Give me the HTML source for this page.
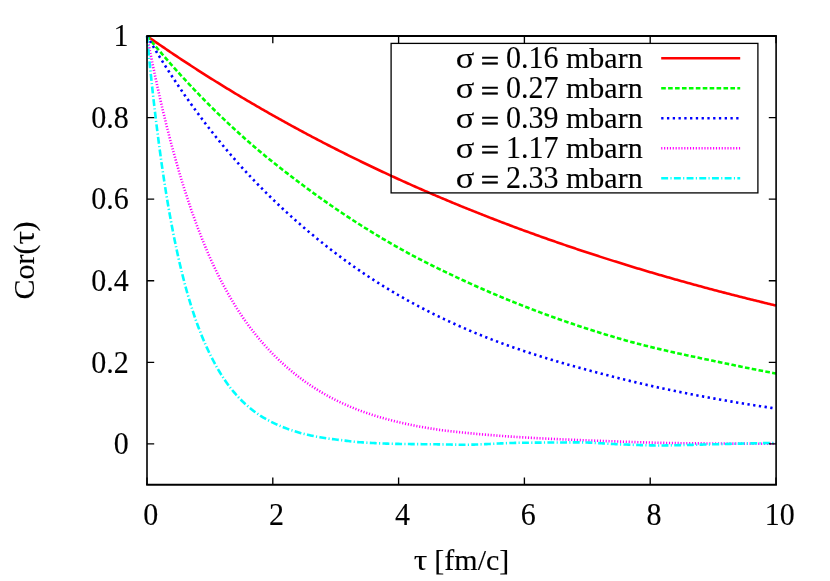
<!DOCTYPE html>
<html><head><meta charset="utf-8"><title>Cor(tau)</title>
<style>html,body{margin:0;padding:0;background:#fff;}body{width:830px;height:581px;overflow:hidden;position:relative;font-family:"Liberation Serif",serif;}</style>
</head><body>
<svg width="830" height="581" viewBox="0 0 830 581" style="position:absolute;left:0;top:0;will-change:transform">
<rect x="0" y="0" width="830" height="581" fill="#fff"/>
<g style="font-family:'Liberation Serif',serif;font-size:30px;fill:#000;stroke:#000;stroke-width:0.12px">
<text transform="translate(128.80,454.11) scale(1,1.03)" text-anchor="end">0</text>
<text transform="translate(128.80,372.53) scale(1,1.03)" text-anchor="end">0.2</text>
<text transform="translate(128.80,290.95) scale(1,1.03)" text-anchor="end">0.4</text>
<text transform="translate(128.80,209.36) scale(1,1.03)" text-anchor="end">0.6</text>
<text transform="translate(128.80,127.78) scale(1,1.03)" text-anchor="end">0.8</text>
<text transform="translate(128.60,46.20) scale(1,1.03)" text-anchor="end">1</text>
<text transform="translate(150.80,525.30) scale(1,1.03)" text-anchor="middle">0</text>
<text transform="translate(276.60,525.30) scale(1,1.03)" text-anchor="middle">2</text>
<text transform="translate(402.40,525.30) scale(1,1.03)" text-anchor="middle">4</text>
<text transform="translate(528.20,525.30) scale(1,1.03)" text-anchor="middle">6</text>
<text transform="translate(654.00,525.30) scale(1,1.03)" text-anchor="middle">8</text>
<text transform="translate(779.80,525.30) scale(1,1.03)" text-anchor="middle">10</text>
<text transform="translate(413.70,569.60) scale(1.13,1)" x="0" y="0">τ</text>
<text x="434.37" y="569.6">[fm/c]</text>
<g transform="translate(33.6,299.6) rotate(-90)"><text x="0" y="0">Cor(</text><text transform="translate(54.99,0.00) scale(1.13,1)" x="0" y="0">τ</text><text x="68.16" y="0">)</text></g>
<text transform="translate(455.70,68.10) scale(1.15,1)" x="0" y="0">σ</text>
<text transform="translate(490.05,70.60) scale(1.085,1)" text-anchor="middle" style="stroke-width:0.55px">=</text>
<text transform="translate(506.01,68.10) scale(1,1.03)" text-anchor="start">0.16</text>
<text transform="translate(566.01,68.10) scale(1,1)" text-anchor="start">mbarn</text>
<path d="M661.2,58.25 H740.2" fill="none" stroke="#ff0000" stroke-width="2.6"/>
<text transform="translate(455.70,98.05) scale(1.15,1)" x="0" y="0">σ</text>
<text transform="translate(490.05,100.55) scale(1.085,1)" text-anchor="middle" style="stroke-width:0.55px">=</text>
<text transform="translate(506.01,98.05) scale(1,1.03)" text-anchor="start">0.27</text>
<text transform="translate(566.01,98.05) scale(1,1)" text-anchor="start">mbarn</text>
<path d="M661.2,88.25 H740.2" fill="none" stroke="#00ff00" stroke-width="2.6" stroke-dasharray="4.61,2.31"/>
<text transform="translate(455.70,128.00) scale(1.15,1)" x="0" y="0">σ</text>
<text transform="translate(490.05,130.50) scale(1.085,1)" text-anchor="middle" style="stroke-width:0.55px">=</text>
<text transform="translate(506.01,128.00) scale(1,1.03)" text-anchor="start">0.39</text>
<text transform="translate(566.01,128.00) scale(1,1)" text-anchor="start">mbarn</text>
<path d="M661.2,118.25 H740.2" fill="none" stroke="#0000ff" stroke-width="2.6" stroke-dasharray="2.31,3.46"/>
<text transform="translate(455.70,157.95) scale(1.15,1)" x="0" y="0">σ</text>
<text transform="translate(490.05,160.45) scale(1.085,1)" text-anchor="middle" style="stroke-width:0.55px">=</text>
<text transform="translate(506.01,157.95) scale(1,1.03)" text-anchor="start">1.17</text>
<text transform="translate(566.01,157.95) scale(1,1)" text-anchor="start">mbarn</text>
<path d="M661.2,148.25 H740.2" fill="none" stroke="#ff00ff" stroke-width="2.6" stroke-dasharray="1.15,1.73"/>
<text transform="translate(455.70,187.90) scale(1.15,1)" x="0" y="0">σ</text>
<text transform="translate(490.05,190.40) scale(1.085,1)" text-anchor="middle" style="stroke-width:0.55px">=</text>
<text transform="translate(506.01,187.90) scale(1,1.03)" text-anchor="start">2.33</text>
<text transform="translate(566.01,187.90) scale(1,1)" text-anchor="start">mbarn</text>
<path d="M661.2,178.25 H740.2" fill="none" stroke="#00ffff" stroke-width="2.6" stroke-dasharray="6.92,2.31,1.15,2.31"/>
</g>
<path d="M147.00,36.00 L148.57,37.10 L150.15,38.20 L151.72,39.29 L153.29,40.39 L154.86,41.48 L156.44,42.56 L158.01,43.64 L159.58,44.72 L161.15,45.80 L162.72,46.88 L164.30,47.95 L165.87,49.02 L167.44,50.08 L169.01,51.15 L170.59,52.21 L172.16,53.26 L173.73,54.32 L175.31,55.37 L176.88,56.42 L178.45,57.46 L180.02,58.51 L181.59,59.55 L183.17,60.58 L184.74,61.62 L186.31,62.65 L187.88,63.68 L189.46,64.71 L191.03,65.73 L192.60,66.75 L194.18,67.77 L195.75,68.78 L197.32,69.80 L198.89,70.81 L200.47,71.81 L202.04,72.82 L203.61,73.82 L205.18,74.82 L206.75,75.81 L208.33,76.81 L209.90,77.80 L211.47,78.79 L213.05,79.77 L214.62,80.75 L216.19,81.73 L217.76,82.71 L219.33,83.69 L220.91,84.66 L222.48,85.63 L224.05,86.60 L225.62,87.56 L227.20,88.52 L228.77,89.48 L230.34,90.44 L231.92,91.39 L233.49,92.34 L235.06,93.29 L236.63,94.24 L238.20,95.18 L239.78,96.12 L241.35,97.06 L242.92,98.00 L244.50,98.93 L246.07,99.86 L247.64,100.79 L249.21,101.72 L250.78,102.64 L252.36,103.56 L253.93,104.48 L255.50,105.40 L257.07,106.31 L258.65,107.22 L260.22,108.13 L261.79,109.04 L263.37,109.94 L264.94,110.84 L266.51,111.74 L268.08,112.64 L269.65,113.53 L271.23,114.42 L272.80,115.31 L274.37,116.20 L275.94,117.08 L277.52,117.97 L279.09,118.85 L280.66,119.72 L282.24,120.60 L283.81,121.47 L285.38,122.34 L286.95,123.21 L288.52,124.08 L290.10,124.94 L291.67,125.80 L293.24,126.66 L294.81,127.51 L296.39,128.37 L297.96,129.22 L299.53,130.07 L301.11,130.92 L302.68,131.76 L304.25,132.60 L305.82,133.44 L307.39,134.28 L308.97,135.12 L310.54,135.95 L312.11,136.78 L313.69,137.61 L315.26,138.44 L316.83,139.26 L318.40,140.08 L319.98,140.90 L321.55,141.72 L323.12,142.54 L324.69,143.35 L326.26,144.16 L327.84,144.97 L329.41,145.78 L330.98,146.58 L332.56,147.39 L334.13,148.19 L335.70,148.98 L337.27,149.78 L338.84,150.57 L340.42,151.37 L341.99,152.16 L343.56,152.94 L345.13,153.73 L346.71,154.51 L348.28,155.29 L349.85,156.07 L351.43,156.85 L353.00,157.62 L354.57,158.40 L356.14,159.17 L357.72,159.94 L359.29,160.70 L360.86,161.47 L362.43,162.23 L364.00,162.99 L365.58,163.75 L367.15,164.50 L368.72,165.26 L370.29,166.01 L371.87,166.76 L373.44,167.51 L375.01,168.25 L376.58,169.00 L378.16,169.74 L379.73,170.48 L381.30,171.22 L382.88,171.95 L384.45,172.69 L386.02,173.42 L387.59,174.15 L389.17,174.88 L390.74,175.60 L392.31,176.33 L393.88,177.05 L395.46,177.77 L397.03,178.49 L398.60,179.21 L400.17,179.92 L401.75,180.63 L403.32,181.34 L404.89,182.05 L406.46,182.76 L408.04,183.46 L409.61,184.17 L411.18,184.87 L412.75,185.57 L414.32,186.26 L415.90,186.96 L417.47,187.65 L419.04,188.34 L420.61,189.03 L422.19,189.72 L423.76,190.41 L425.33,191.09 L426.91,191.77 L428.48,192.45 L430.05,193.13 L431.62,193.81 L433.19,194.49 L434.77,195.16 L436.34,195.83 L437.91,196.50 L439.49,197.17 L441.06,197.83 L442.63,198.50 L444.20,199.16 L445.77,199.82 L447.35,200.48 L448.92,201.14 L450.49,201.79 L452.06,202.45 L453.64,203.10 L455.21,203.75 L456.78,204.40 L458.36,205.04 L459.93,205.69 L461.50,206.33 L463.07,206.97 L464.64,207.61 L466.22,208.25 L467.79,208.88 L469.36,209.52 L470.94,210.15 L472.51,210.78 L474.08,211.41 L475.65,212.04 L477.23,212.66 L478.80,213.29 L480.37,213.91 L481.94,214.53 L483.51,215.15 L485.09,215.77 L486.66,216.38 L488.23,217.00 L489.81,217.61 L491.38,218.22 L492.95,218.83 L494.52,219.44 L496.09,220.04 L497.67,220.65 L499.24,221.25 L500.81,221.85 L502.39,222.45 L503.96,223.05 L505.53,223.64 L507.10,224.24 L508.68,224.83 L510.25,225.42 L511.82,226.01 L513.39,226.60 L514.96,227.19 L516.54,227.77 L518.11,228.36 L519.68,228.94 L521.25,229.52 L522.83,230.10 L524.40,230.67 L525.97,231.25 L527.54,231.82 L529.12,232.40 L530.69,232.97 L532.26,233.54 L533.84,234.10 L535.41,234.67 L536.98,235.23 L538.55,235.80 L540.12,236.36 L541.70,236.92 L543.27,237.48 L544.84,238.04 L546.41,238.59 L547.99,239.15 L549.56,239.70 L551.13,240.25 L552.71,240.80 L554.28,241.35 L555.85,241.89 L557.42,242.44 L559.00,242.98 L560.57,243.53 L562.14,244.07 L563.71,244.61 L565.29,245.14 L566.86,245.68 L568.43,246.22 L570.00,246.75 L571.58,247.28 L573.15,247.81 L574.72,248.34 L576.29,248.87 L577.87,249.40 L579.44,249.92 L581.01,250.44 L582.58,250.97 L584.15,251.49 L585.73,252.01 L587.30,252.52 L588.87,253.04 L590.44,253.56 L592.02,254.07 L593.59,254.58 L595.16,255.09 L596.74,255.60 L598.31,256.11 L599.88,256.62 L601.45,257.12 L603.02,257.63 L604.60,258.13 L606.17,258.63 L607.74,259.13 L609.31,259.63 L610.89,260.13 L612.46,260.62 L614.03,261.12 L615.61,261.61 L617.18,262.10 L618.75,262.59 L620.32,263.08 L621.89,263.57 L623.47,264.06 L625.04,264.54 L626.61,265.03 L628.19,265.51 L629.76,265.99 L631.33,266.47 L632.90,266.95 L634.48,267.43 L636.05,267.91 L637.62,268.38 L639.19,268.85 L640.76,269.33 L642.34,269.80 L643.91,270.27 L645.48,270.74 L647.06,271.20 L648.63,271.67 L650.20,272.14 L651.77,272.60 L653.35,273.06 L654.92,273.52 L656.49,273.98 L658.06,274.44 L659.63,274.90 L661.21,275.35 L662.78,275.81 L664.35,276.26 L665.92,276.72 L667.50,277.17 L669.07,277.62 L670.64,278.07 L672.21,278.51 L673.79,278.96 L675.36,279.40 L676.93,279.85 L678.50,280.29 L680.08,280.73 L681.65,281.17 L683.22,281.61 L684.80,282.05 L686.37,282.49 L687.94,282.92 L689.51,283.36 L691.09,283.79 L692.66,284.22 L694.23,284.65 L695.80,285.08 L697.38,285.51 L698.95,285.94 L700.52,286.37 L702.09,286.79 L703.66,287.22 L705.24,287.64 L706.81,288.06 L708.38,288.48 L709.95,288.90 L711.53,289.32 L713.10,289.74 L714.67,290.15 L716.25,290.57 L717.82,290.98 L719.39,291.39 L720.96,291.81 L722.54,292.22 L724.11,292.63 L725.68,293.03 L727.25,293.44 L728.83,293.85 L730.40,294.25 L731.97,294.66 L733.54,295.06 L735.12,295.46 L736.69,295.86 L738.26,296.26 L739.83,296.66 L741.40,297.06 L742.98,297.45 L744.55,297.85 L746.12,298.24 L747.70,298.64 L749.27,299.03 L750.84,299.42 L752.41,299.81 L753.99,300.20 L755.56,300.59 L757.13,300.97 L758.70,301.36 L760.27,301.74 L761.85,302.13 L763.42,302.51 L764.99,302.89 L766.56,303.27 L768.14,303.65 L769.71,304.03 L771.28,304.41 L772.85,304.78 L774.43,305.16 L776.00,305.53" fill="none" stroke="#ff0000" stroke-width="2.6" stroke-linejoin="round"/>
<path d="M147.00,36.00 L148.57,37.92 L150.15,39.83 L151.72,41.73 L153.29,43.62 L154.86,45.50 L156.44,47.37 L158.01,49.23 L159.58,51.09 L161.15,52.93 L162.72,54.76 L164.30,56.59 L165.87,58.40 L167.44,60.21 L169.01,62.01 L170.59,63.79 L172.16,65.57 L173.73,67.34 L175.31,69.10 L176.88,70.85 L178.45,72.59 L180.02,74.33 L181.59,76.05 L183.17,77.77 L184.74,79.47 L186.31,81.17 L187.88,82.86 L189.46,84.54 L191.03,86.21 L192.60,87.88 L194.18,89.53 L195.75,91.18 L197.32,92.81 L198.89,94.44 L200.47,96.06 L202.04,97.67 L203.61,99.28 L205.18,100.87 L206.75,102.46 L208.33,104.04 L209.90,105.61 L211.47,107.17 L213.05,108.73 L214.62,110.27 L216.19,111.81 L217.76,113.34 L219.33,114.86 L220.91,116.38 L222.48,117.89 L224.05,119.38 L225.62,120.88 L227.20,122.36 L228.77,123.83 L230.34,125.30 L231.92,126.76 L233.49,128.22 L235.06,129.66 L236.63,131.10 L238.20,132.53 L239.78,133.95 L241.35,135.37 L242.92,136.77 L244.50,138.18 L246.07,139.57 L247.64,140.96 L249.21,142.33 L250.78,143.71 L252.36,145.07 L253.93,146.42 L255.50,147.76 L257.07,149.10 L258.65,150.43 L260.22,151.75 L261.79,153.06 L263.37,154.36 L264.94,155.66 L266.51,156.95 L268.08,158.23 L269.65,159.51 L271.23,160.77 L272.80,162.04 L274.37,163.29 L275.94,164.54 L277.52,165.78 L279.09,167.02 L280.66,168.25 L282.24,169.48 L283.81,170.70 L285.38,171.92 L286.95,173.13 L288.52,174.34 L290.10,175.55 L291.67,176.75 L293.24,177.95 L294.81,179.14 L296.39,180.34 L297.96,181.53 L299.53,182.72 L301.11,183.90 L302.68,185.08 L304.25,186.26 L305.82,187.42 L307.39,188.59 L308.97,189.75 L310.54,190.90 L312.11,192.05 L313.69,193.20 L315.26,194.34 L316.83,195.47 L318.40,196.60 L319.98,197.73 L321.55,198.85 L323.12,199.96 L324.69,201.07 L326.26,202.18 L327.84,203.28 L329.41,204.37 L330.98,205.46 L332.56,206.55 L334.13,207.63 L335.70,208.70 L337.27,209.77 L338.84,210.84 L340.42,211.90 L341.99,212.96 L343.56,214.01 L345.13,215.06 L346.71,216.10 L348.28,217.14 L349.85,218.17 L351.43,219.20 L353.00,220.22 L354.57,221.24 L356.14,222.25 L357.72,223.26 L359.29,224.27 L360.86,225.27 L362.43,226.26 L364.00,227.25 L365.58,228.24 L367.15,229.22 L368.72,230.19 L370.29,231.16 L371.87,232.13 L373.44,233.09 L375.01,234.05 L376.58,235.00 L378.16,235.95 L379.73,236.89 L381.30,237.83 L382.88,238.77 L384.45,239.69 L386.02,240.62 L387.59,241.54 L389.17,242.45 L390.74,243.36 L392.31,244.27 L393.88,245.17 L395.46,246.07 L397.03,246.96 L398.60,247.84 L400.17,248.73 L401.75,249.60 L403.32,250.47 L404.89,251.34 L406.46,252.20 L408.04,253.05 L409.61,253.90 L411.18,254.74 L412.75,255.58 L414.32,256.41 L415.90,257.24 L417.47,258.06 L419.04,258.88 L420.61,259.70 L422.19,260.50 L423.76,261.31 L425.33,262.11 L426.91,262.91 L428.48,263.70 L430.05,264.49 L431.62,265.27 L433.19,266.05 L434.77,266.83 L436.34,267.60 L437.91,268.37 L439.49,269.14 L441.06,269.90 L442.63,270.66 L444.20,271.42 L445.77,272.17 L447.35,272.92 L448.92,273.67 L450.49,274.42 L452.06,275.16 L453.64,275.90 L455.21,276.64 L456.78,277.37 L458.36,278.11 L459.93,278.84 L461.50,279.57 L463.07,280.29 L464.64,281.02 L466.22,281.74 L467.79,282.46 L469.36,283.17 L470.94,283.88 L472.51,284.59 L474.08,285.30 L475.65,286.00 L477.23,286.70 L478.80,287.40 L480.37,288.09 L481.94,288.78 L483.51,289.47 L485.09,290.16 L486.66,290.84 L488.23,291.52 L489.81,292.19 L491.38,292.87 L492.95,293.54 L494.52,294.21 L496.09,294.87 L497.67,295.53 L499.24,296.19 L500.81,296.85 L502.39,297.50 L503.96,298.16 L505.53,298.80 L507.10,299.45 L508.68,300.09 L510.25,300.73 L511.82,301.37 L513.39,302.00 L514.96,302.63 L516.54,303.26 L518.11,303.89 L519.68,304.51 L521.25,305.13 L522.83,305.75 L524.40,306.36 L525.97,306.97 L527.54,307.58 L529.12,308.19 L530.69,308.79 L532.26,309.39 L533.84,309.99 L535.41,310.59 L536.98,311.18 L538.55,311.77 L540.12,312.36 L541.70,312.94 L543.27,313.53 L544.84,314.10 L546.41,314.68 L547.99,315.26 L549.56,315.83 L551.13,316.40 L552.71,316.96 L554.28,317.52 L555.85,318.08 L557.42,318.64 L559.00,319.20 L560.57,319.75 L562.14,320.30 L563.71,320.85 L565.29,321.39 L566.86,321.94 L568.43,322.48 L570.00,323.01 L571.58,323.55 L573.15,324.08 L574.72,324.61 L576.29,325.13 L577.87,325.66 L579.44,326.18 L581.01,326.70 L582.58,327.21 L584.15,327.73 L585.73,328.24 L587.30,328.75 L588.87,329.25 L590.44,329.76 L592.02,330.26 L593.59,330.76 L595.16,331.25 L596.74,331.74 L598.31,332.23 L599.88,332.72 L601.45,333.21 L603.02,333.69 L604.60,334.17 L606.17,334.65 L607.74,335.13 L609.31,335.60 L610.89,336.07 L612.46,336.54 L614.03,337.00 L615.61,337.47 L617.18,337.93 L618.75,338.38 L620.32,338.84 L621.89,339.29 L623.47,339.74 L625.04,340.19 L626.61,340.64 L628.19,341.08 L629.76,341.51 L631.33,341.95 L632.90,342.37 L634.48,342.80 L636.05,343.22 L637.62,343.64 L639.19,344.05 L640.76,344.46 L642.34,344.87 L643.91,345.27 L645.48,345.67 L647.06,346.07 L648.63,346.46 L650.20,346.85 L651.77,347.24 L653.35,347.62 L654.92,348.00 L656.49,348.38 L658.06,348.76 L659.63,349.13 L661.21,349.50 L662.78,349.87 L664.35,350.24 L665.92,350.60 L667.50,350.96 L669.07,351.32 L670.64,351.68 L672.21,352.04 L673.79,352.39 L675.36,352.74 L676.93,353.09 L678.50,353.44 L680.08,353.79 L681.65,354.13 L683.22,354.48 L684.80,354.82 L686.37,355.16 L687.94,355.50 L689.51,355.84 L691.09,356.18 L692.66,356.51 L694.23,356.85 L695.80,357.18 L697.38,357.52 L698.95,357.85 L700.52,358.18 L702.09,358.51 L703.66,358.84 L705.24,359.18 L706.81,359.51 L708.38,359.83 L709.95,360.16 L711.53,360.49 L713.10,360.82 L714.67,361.15 L716.25,361.48 L717.82,361.81 L719.39,362.13 L720.96,362.46 L722.54,362.79 L724.11,363.12 L725.68,363.45 L727.25,363.78 L728.83,364.11 L730.40,364.44 L731.97,364.77 L733.54,365.09 L735.12,365.42 L736.69,365.74 L738.26,366.07 L739.83,366.39 L741.40,366.71 L742.98,367.03 L744.55,367.35 L746.12,367.67 L747.70,367.99 L749.27,368.31 L750.84,368.62 L752.41,368.94 L753.99,369.25 L755.56,369.56 L757.13,369.87 L758.70,370.19 L760.27,370.50 L761.85,370.80 L763.42,371.11 L764.99,371.42 L766.56,371.73 L768.14,372.03 L769.71,372.34 L771.28,372.64 L772.85,372.95 L774.43,373.25 L776.00,373.55" fill="none" stroke="#00ff00" stroke-width="2.6" stroke-linejoin="round" stroke-dasharray="4.61,2.31"/>
<path d="M147.00,36.00 L148.57,38.67 L150.15,41.33 L151.72,43.96 L153.29,46.58 L154.86,49.18 L156.44,51.76 L158.01,54.32 L159.58,56.86 L161.15,59.38 L162.72,61.89 L164.30,64.38 L165.87,66.85 L167.44,69.30 L169.01,71.73 L170.59,74.15 L172.16,76.55 L173.73,78.93 L175.31,81.30 L176.88,83.65 L178.45,85.98 L180.02,88.29 L181.59,90.59 L183.17,92.87 L184.74,95.14 L186.31,97.39 L187.88,99.62 L189.46,101.84 L191.03,104.04 L192.60,106.23 L194.18,108.40 L195.75,110.56 L197.32,112.70 L198.89,114.82 L200.47,116.93 L202.04,119.02 L203.61,121.10 L205.18,123.17 L206.75,125.22 L208.33,127.26 L209.90,129.28 L211.47,131.28 L213.05,133.28 L214.62,135.26 L216.19,137.22 L217.76,139.17 L219.33,141.11 L220.91,143.03 L222.48,144.94 L224.05,146.84 L225.62,148.72 L227.20,150.58 L228.77,152.44 L230.34,154.28 L231.92,156.10 L233.49,157.92 L235.06,159.72 L236.63,161.50 L238.20,163.28 L239.78,165.04 L241.35,166.79 L242.92,168.52 L244.50,170.25 L246.07,171.96 L247.64,173.66 L249.21,175.34 L250.78,177.02 L252.36,178.68 L253.93,180.33 L255.50,181.98 L257.07,183.60 L258.65,185.22 L260.22,186.83 L261.79,188.43 L263.37,190.01 L264.94,191.59 L266.51,193.15 L268.08,194.70 L269.65,196.25 L271.23,197.78 L272.80,199.30 L274.37,200.82 L275.94,202.32 L277.52,203.82 L279.09,205.30 L280.66,206.78 L282.24,208.25 L283.81,209.71 L285.38,211.16 L286.95,212.60 L288.52,214.03 L290.10,215.45 L291.67,216.87 L293.24,218.28 L294.81,219.68 L296.39,221.07 L297.96,222.46 L299.53,223.83 L301.11,225.20 L302.68,226.56 L304.25,227.92 L305.82,229.26 L307.39,230.60 L308.97,231.93 L310.54,233.25 L312.11,234.56 L313.69,235.87 L315.26,237.16 L316.83,238.45 L318.40,239.73 L319.98,241.00 L321.55,242.27 L323.12,243.53 L324.69,244.78 L326.26,246.02 L327.84,247.25 L329.41,248.48 L330.98,249.70 L332.56,250.91 L334.13,252.11 L335.70,253.31 L337.27,254.50 L338.84,255.68 L340.42,256.85 L341.99,258.02 L343.56,259.18 L345.13,260.33 L346.71,261.47 L348.28,262.61 L349.85,263.74 L351.43,264.86 L353.00,265.98 L354.57,267.09 L356.14,268.19 L357.72,269.28 L359.29,270.37 L360.86,271.45 L362.43,272.52 L364.00,273.58 L365.58,274.64 L367.15,275.69 L368.72,276.73 L370.29,277.77 L371.87,278.80 L373.44,279.82 L375.01,280.84 L376.58,281.85 L378.16,282.85 L379.73,283.84 L381.30,284.83 L382.88,285.81 L384.45,286.79 L386.02,287.76 L387.59,288.72 L389.17,289.67 L390.74,290.62 L392.31,291.56 L393.88,292.49 L395.46,293.42 L397.03,294.34 L398.60,295.25 L400.17,296.16 L401.75,297.06 L403.32,297.95 L404.89,298.84 L406.46,299.72 L408.04,300.59 L409.61,301.46 L411.18,302.32 L412.75,303.18 L414.32,304.03 L415.90,304.88 L417.47,305.71 L419.04,306.55 L420.61,307.37 L422.19,308.20 L423.76,309.01 L425.33,309.82 L426.91,310.63 L428.48,311.42 L430.05,312.22 L431.62,313.01 L433.19,313.79 L434.77,314.57 L436.34,315.34 L437.91,316.11 L439.49,316.87 L441.06,317.63 L442.63,318.38 L444.20,319.13 L445.77,319.87 L447.35,320.61 L448.92,321.34 L450.49,322.07 L452.06,322.79 L453.64,323.51 L455.21,324.23 L456.78,324.94 L458.36,325.64 L459.93,326.34 L461.50,327.04 L463.07,327.73 L464.64,328.42 L466.22,329.10 L467.79,329.78 L469.36,330.45 L470.94,331.12 L472.51,331.78 L474.08,332.44 L475.65,333.09 L477.23,333.73 L478.80,334.38 L480.37,335.01 L481.94,335.65 L483.51,336.28 L485.09,336.90 L486.66,337.52 L488.23,338.13 L489.81,338.74 L491.38,339.35 L492.95,339.95 L494.52,340.55 L496.09,341.14 L497.67,341.73 L499.24,342.31 L500.81,342.90 L502.39,343.47 L503.96,344.05 L505.53,344.61 L507.10,345.18 L508.68,345.74 L510.25,346.30 L511.82,346.85 L513.39,347.40 L514.96,347.95 L516.54,348.49 L518.11,349.03 L519.68,349.57 L521.25,350.10 L522.83,350.63 L524.40,351.16 L525.97,351.68 L527.54,352.20 L529.12,352.72 L530.69,353.23 L532.26,353.74 L533.84,354.25 L535.41,354.75 L536.98,355.25 L538.55,355.75 L540.12,356.25 L541.70,356.74 L543.27,357.23 L544.84,357.72 L546.41,358.20 L547.99,358.68 L549.56,359.16 L551.13,359.64 L552.71,360.11 L554.28,360.58 L555.85,361.05 L557.42,361.52 L559.00,361.98 L560.57,362.44 L562.14,362.90 L563.71,363.36 L565.29,363.81 L566.86,364.27 L568.43,364.72 L570.00,365.16 L571.58,365.61 L573.15,366.05 L574.72,366.49 L576.29,366.93 L577.87,367.37 L579.44,367.81 L581.01,368.24 L582.58,368.67 L584.15,369.10 L585.73,369.53 L587.30,369.96 L588.87,370.38 L590.44,370.80 L592.02,371.23 L593.59,371.64 L595.16,372.06 L596.74,372.48 L598.31,372.89 L599.88,373.30 L601.45,373.72 L603.02,374.13 L604.60,374.53 L606.17,374.94 L607.74,375.35 L609.31,375.75 L610.89,376.15 L612.46,376.55 L614.03,376.95 L615.61,377.35 L617.18,377.75 L618.75,378.14 L620.32,378.54 L621.89,378.93 L623.47,379.32 L625.04,379.72 L626.61,380.11 L628.19,380.49 L629.76,380.88 L631.33,381.26 L632.90,381.64 L634.48,382.02 L636.05,382.39 L637.62,382.77 L639.19,383.14 L640.76,383.50 L642.34,383.87 L643.91,384.24 L645.48,384.60 L647.06,384.96 L648.63,385.32 L650.20,385.67 L651.77,386.03 L653.35,386.38 L654.92,386.73 L656.49,387.07 L658.06,387.42 L659.63,387.76 L661.21,388.10 L662.78,388.44 L664.35,388.78 L665.92,389.12 L667.50,389.45 L669.07,389.78 L670.64,390.11 L672.21,390.44 L673.79,390.77 L675.36,391.09 L676.93,391.41 L678.50,391.73 L680.08,392.05 L681.65,392.37 L683.22,392.68 L684.80,393.00 L686.37,393.31 L687.94,393.62 L689.51,393.92 L691.09,394.23 L692.66,394.54 L694.23,394.84 L695.80,395.14 L697.38,395.44 L698.95,395.74 L700.52,396.03 L702.09,396.33 L703.66,396.62 L705.24,396.91 L706.81,397.20 L708.38,397.49 L709.95,397.78 L711.53,398.06 L713.10,398.34 L714.67,398.63 L716.25,398.91 L717.82,399.18 L719.39,399.46 L720.96,399.74 L722.54,400.01 L724.11,400.28 L725.68,400.56 L727.25,400.83 L728.83,401.09 L730.40,401.36 L731.97,401.63 L733.54,401.89 L735.12,402.15 L736.69,402.42 L738.26,402.68 L739.83,402.94 L741.40,403.19 L742.98,403.45 L744.55,403.70 L746.12,403.96 L747.70,404.21 L749.27,404.46 L750.84,404.71 L752.41,404.96 L753.99,405.20 L755.56,405.45 L757.13,405.69 L758.70,405.94 L760.27,406.18 L761.85,406.42 L763.42,406.66 L764.99,406.90 L766.56,407.13 L768.14,407.37 L769.71,407.61 L771.28,407.84 L772.85,408.07 L774.43,408.30 L776.00,408.53" fill="none" stroke="#0000ff" stroke-width="2.6" stroke-linejoin="round" stroke-dasharray="2.31,3.46"/>
<path d="M147.00,36.00 L148.57,44.10 L150.15,52.04 L151.72,59.80 L153.29,67.41 L154.86,74.85 L156.44,82.14 L158.01,89.27 L159.58,96.25 L161.15,103.09 L162.72,109.79 L164.30,116.34 L165.87,122.76 L167.44,129.05 L169.01,135.20 L170.59,141.22 L172.16,147.12 L173.73,152.90 L175.31,158.56 L176.88,164.10 L178.45,169.53 L180.02,174.84 L181.59,180.05 L183.17,185.15 L184.74,190.14 L186.31,195.03 L187.88,199.82 L189.46,204.51 L191.03,209.11 L192.60,213.61 L194.18,218.02 L195.75,222.33 L197.32,226.56 L198.89,230.70 L200.47,234.76 L202.04,238.73 L203.61,242.62 L205.18,246.43 L206.75,250.16 L208.33,253.82 L209.90,257.40 L211.47,260.90 L213.05,264.33 L214.62,267.69 L216.19,270.98 L217.76,274.20 L219.33,277.35 L220.91,280.43 L222.48,283.45 L224.05,286.41 L225.62,289.31 L227.20,292.15 L228.77,294.92 L230.34,297.65 L231.92,300.31 L233.49,302.93 L235.06,305.48 L236.63,307.99 L238.20,310.45 L239.78,312.86 L241.35,315.22 L242.92,317.53 L244.50,319.79 L246.07,322.02 L247.64,324.20 L249.21,326.33 L250.78,328.43 L252.36,330.48 L253.93,332.50 L255.50,334.48 L257.07,336.42 L258.65,338.32 L260.22,340.19 L261.79,342.02 L263.37,343.82 L264.94,345.59 L266.51,347.32 L268.08,349.02 L269.65,350.70 L271.23,352.34 L272.80,353.95 L274.37,355.54 L275.94,357.10 L277.52,358.63 L279.09,360.13 L280.66,361.61 L282.24,363.07 L283.81,364.50 L285.38,365.90 L286.95,367.29 L288.52,368.65 L290.10,369.99 L291.67,371.30 L293.24,372.60 L294.81,373.87 L296.39,375.11 L297.96,376.34 L299.53,377.55 L301.11,378.73 L302.68,379.89 L304.25,381.03 L305.82,382.16 L307.39,383.26 L308.97,384.34 L310.54,385.40 L312.11,386.45 L313.69,387.47 L315.26,388.48 L316.83,389.47 L318.40,390.44 L319.98,391.40 L321.55,392.33 L323.12,393.25 L324.69,394.16 L326.26,395.04 L327.84,395.91 L329.41,396.77 L330.98,397.61 L332.56,398.43 L334.13,399.24 L335.70,400.04 L337.27,400.82 L338.84,401.58 L340.42,402.33 L341.99,403.07 L343.56,403.79 L345.13,404.50 L346.71,405.20 L348.28,405.88 L349.85,406.55 L351.43,407.21 L353.00,407.85 L354.57,408.49 L356.14,409.11 L357.72,409.72 L359.29,410.31 L360.86,410.90 L362.43,411.48 L364.00,412.04 L365.58,412.60 L367.15,413.14 L368.72,413.67 L370.29,414.20 L371.87,414.71 L373.44,415.22 L375.01,415.71 L376.58,416.20 L378.16,416.68 L379.73,417.15 L381.30,417.61 L382.88,418.06 L384.45,418.51 L386.02,418.94 L387.59,419.37 L389.17,419.79 L390.74,420.20 L392.31,420.60 L393.88,421.00 L395.46,421.39 L397.03,421.77 L398.60,422.15 L400.17,422.52 L401.75,422.88 L403.32,423.23 L404.89,423.58 L406.46,423.93 L408.04,424.26 L409.61,424.59 L411.18,424.92 L412.75,425.23 L414.32,425.55 L415.90,425.85 L417.47,426.16 L419.04,426.45 L420.61,426.74 L422.19,427.03 L423.76,427.31 L425.33,427.58 L426.91,427.85 L428.48,428.12 L430.05,428.38 L431.62,428.64 L433.19,428.89 L434.77,429.13 L436.34,429.38 L437.91,429.61 L439.49,429.85 L441.06,430.09 L442.63,430.30 L444.20,430.49 L445.77,430.67 L447.35,430.85 L448.92,431.03 L450.49,431.21 L452.06,431.39 L453.64,431.56 L455.21,431.73 L456.78,431.90 L458.36,432.07 L459.93,432.24 L461.50,432.40 L463.07,432.56 L464.64,432.72 L466.22,432.88 L467.79,433.04 L469.36,433.19 L470.94,433.34 L472.51,433.50 L474.08,433.64 L475.65,433.79 L477.23,433.94 L478.80,434.08 L480.37,434.22 L481.94,434.36 L483.51,434.50 L485.09,434.63 L486.66,434.77 L488.23,434.90 L489.81,435.03 L491.38,435.16 L492.95,435.28 L494.52,435.41 L496.09,435.53 L497.67,435.65 L499.24,435.77 L500.81,435.89 L502.39,436.00 L503.96,436.12 L505.53,436.23 L507.10,436.34 L508.68,436.45 L510.25,436.55 L511.82,436.66 L513.39,436.76 L514.96,436.86 L516.54,436.96 L518.11,437.06 L519.68,437.16 L521.25,437.25 L522.83,437.35 L524.40,437.44 L525.97,437.53 L527.54,437.62 L529.12,437.71 L530.69,437.80 L532.26,437.89 L533.84,437.97 L535.41,438.06 L536.98,438.14 L538.55,438.23 L540.12,438.31 L541.70,438.39 L543.27,438.47 L544.84,438.55 L546.41,438.63 L547.99,438.70 L549.56,438.78 L551.13,438.86 L552.71,438.93 L554.28,439.01 L555.85,439.08 L557.42,439.15 L559.00,439.22 L560.57,439.29 L562.14,439.36 L563.71,439.43 L565.29,439.50 L566.86,439.57 L568.43,439.63 L570.00,439.70 L571.58,439.77 L573.15,439.83 L574.72,439.90 L576.29,439.96 L577.87,440.02 L579.44,440.08 L581.01,440.15 L582.58,440.21 L584.15,440.27 L585.73,440.33 L587.30,440.39 L588.87,440.45 L590.44,440.51 L592.02,440.56 L593.59,440.62 L595.16,440.68 L596.74,440.74 L598.31,440.79 L599.88,440.85 L601.45,440.91 L603.02,440.96 L604.60,441.02 L606.17,441.08 L607.74,441.13 L609.31,441.19 L610.89,441.25 L612.46,441.30 L614.03,441.36 L615.61,441.42 L617.18,441.47 L618.75,441.53 L620.32,441.59 L621.89,441.64 L623.47,441.70 L625.04,441.75 L626.61,441.81 L628.19,441.86 L629.76,441.92 L631.33,441.97 L632.90,442.03 L634.48,442.08 L636.05,442.13 L637.62,442.18 L639.19,442.23 L640.76,442.28 L642.34,442.33 L643.91,442.38 L645.48,442.43 L647.06,442.48 L648.63,442.52 L650.20,442.57 L651.77,442.61 L653.35,442.65 L654.92,442.69 L656.49,442.73 L658.06,442.77 L659.63,442.81 L661.21,442.85 L662.78,442.88 L664.35,442.92 L665.92,442.95 L667.50,442.98 L669.07,443.01 L670.64,443.04 L672.21,443.07 L673.79,443.09 L675.36,443.12 L676.93,443.14 L678.50,443.16 L680.08,443.18 L681.65,443.20 L683.22,443.21 L684.80,443.23 L686.37,443.25 L687.94,443.26 L689.51,443.28 L691.09,443.30 L692.66,443.31 L694.23,443.33 L695.80,443.34 L697.38,443.36 L698.95,443.37 L700.52,443.38 L702.09,443.40 L703.66,443.41 L705.24,443.42 L706.81,443.44 L708.38,443.45 L709.95,443.46 L711.53,443.47 L713.10,443.48 L714.67,443.49 L716.25,443.51 L717.82,443.52 L719.39,443.53 L720.96,443.53 L722.54,443.54 L724.11,443.55 L725.68,443.56 L727.25,443.57 L728.83,443.58 L730.40,443.58 L731.97,443.59 L733.54,443.60 L735.12,443.61 L736.69,443.61 L738.26,443.62 L739.83,443.62 L741.40,443.63 L742.98,443.63 L744.55,443.64 L746.12,443.64 L747.70,443.65 L749.27,443.65 L750.84,443.66 L752.41,443.66 L753.99,443.67 L755.56,443.67 L757.13,443.68 L758.70,443.68 L760.27,443.68 L761.85,443.69 L763.42,443.69 L764.99,443.69 L766.56,443.70 L768.14,443.70 L769.71,443.70 L771.28,443.70 L772.85,443.70 L774.43,443.70 L776.00,443.71" fill="none" stroke="#ff00ff" stroke-width="2.6" stroke-linejoin="round" stroke-dasharray="1.15,1.73"/>
<path d="M147.00,36.00 L148.57,52.35 L150.15,68.01 L151.72,82.98 L153.29,97.31 L154.86,111.01 L156.44,124.13 L158.01,136.67 L159.58,148.67 L161.15,160.13 L162.72,171.10 L164.30,181.57 L165.87,191.59 L167.44,201.17 L169.01,210.33 L170.59,219.11 L172.16,227.52 L173.73,235.58 L175.31,243.32 L176.88,250.76 L178.45,257.91 L180.02,264.76 L181.59,271.33 L183.17,277.64 L184.74,283.69 L186.31,289.49 L187.88,295.07 L189.46,300.42 L191.03,305.56 L192.60,310.50 L194.18,315.26 L195.75,319.82 L197.32,324.22 L198.89,328.45 L200.47,332.52 L202.04,336.45 L203.61,340.23 L205.18,343.87 L206.75,347.39 L208.33,350.78 L209.90,354.06 L211.47,357.22 L213.05,360.27 L214.62,363.23 L216.19,366.08 L217.76,368.84 L219.33,371.50 L220.91,374.07 L222.48,376.54 L224.05,378.94 L225.62,381.24 L227.20,383.47 L228.77,385.61 L230.34,387.68 L231.92,389.68 L233.49,391.60 L235.06,393.46 L236.63,395.25 L238.20,396.98 L239.78,398.64 L241.35,400.24 L242.92,401.79 L244.50,403.28 L246.07,404.72 L247.64,406.10 L249.21,407.44 L250.78,408.73 L252.36,409.98 L253.93,411.18 L255.50,412.34 L257.07,413.45 L258.65,414.53 L260.22,415.57 L261.79,416.56 L263.37,417.53 L264.94,418.45 L266.51,419.34 L268.08,420.20 L269.65,421.03 L271.23,421.83 L272.80,422.61 L274.37,423.36 L275.94,424.09 L277.52,424.80 L279.09,425.48 L280.66,426.15 L282.24,426.80 L283.81,427.43 L285.38,428.05 L286.95,428.64 L288.52,429.22 L290.10,429.78 L291.67,430.32 L293.24,430.84 L294.81,431.34 L296.39,431.82 L297.96,432.29 L299.53,432.74 L301.11,433.17 L302.68,433.58 L304.25,433.98 L305.82,434.36 L307.39,434.73 L308.97,435.09 L310.54,435.44 L312.11,435.77 L313.69,436.09 L315.26,436.40 L316.83,436.70 L318.40,436.98 L319.98,437.26 L321.55,437.53 L323.12,437.78 L324.69,438.03 L326.26,438.27 L327.84,438.50 L329.41,438.72 L330.98,438.93 L332.56,439.14 L334.13,439.33 L335.70,439.52 L337.27,439.70 L338.84,439.88 L340.42,440.06 L341.99,440.25 L343.56,440.45 L345.13,440.65 L346.71,440.85 L348.28,441.05 L349.85,441.25 L351.43,441.44 L353.00,441.62 L354.57,441.79 L356.14,441.95 L357.72,442.09 L359.29,442.21 L360.86,442.32 L362.43,442.42 L364.00,442.51 L365.58,442.61 L367.15,442.70 L368.72,442.79 L370.29,442.87 L371.87,442.96 L373.44,443.04 L375.01,443.12 L376.58,443.19 L378.16,443.26 L379.73,443.33 L381.30,443.40 L382.88,443.46 L384.45,443.52 L386.02,443.58 L387.59,443.63 L389.17,443.68 L390.74,443.73 L392.31,443.77 L393.88,443.81 L395.46,443.85 L397.03,443.88 L398.60,443.91 L400.17,443.94 L401.75,443.96 L403.32,443.98 L404.89,444.00 L406.46,444.02 L408.04,444.04 L409.61,444.06 L411.18,444.08 L412.75,444.09 L414.32,444.11 L415.90,444.12 L417.47,444.13 L419.04,444.15 L420.61,444.16 L422.19,444.18 L423.76,444.19 L425.33,444.20 L426.91,444.22 L428.48,444.23 L430.05,444.25 L431.62,444.26 L433.19,444.28 L434.77,444.30 L436.34,444.32 L437.91,444.34 L439.49,444.36 L441.06,444.39 L442.63,444.42 L444.20,444.45 L445.77,444.48 L447.35,444.51 L448.92,444.54 L450.49,444.57 L452.06,444.60 L453.64,444.63 L455.21,444.65 L456.78,444.67 L458.36,444.69 L459.93,444.71 L461.50,444.72 L463.07,444.72 L464.64,444.72 L466.22,444.72 L467.79,444.70 L469.36,444.68 L470.94,444.65 L472.51,444.62 L474.08,444.58 L475.65,444.53 L477.23,444.48 L478.80,444.43 L480.37,444.37 L481.94,444.31 L483.51,444.24 L485.09,444.17 L486.66,444.10 L488.23,444.03 L489.81,443.95 L491.38,443.88 L492.95,443.80 L494.52,443.72 L496.09,443.65 L497.67,443.57 L499.24,443.50 L500.81,443.42 L502.39,443.35 L503.96,443.28 L505.53,443.22 L507.10,443.15 L508.68,443.09 L510.25,443.04 L511.82,442.99 L513.39,442.94 L514.96,442.90 L516.54,442.86 L518.11,442.83 L519.68,442.81 L521.25,442.79 L522.83,442.78 L524.40,442.76 L525.97,442.74 L527.54,442.72 L529.12,442.71 L530.69,442.69 L532.26,442.67 L533.84,442.66 L535.41,442.64 L536.98,442.63 L538.55,442.61 L540.12,442.60 L541.70,442.58 L543.27,442.57 L544.84,442.56 L546.41,442.54 L547.99,442.53 L549.56,442.52 L551.13,442.51 L552.71,442.50 L554.28,442.49 L555.85,442.48 L557.42,442.47 L559.00,442.46 L560.57,442.45 L562.14,442.44 L563.71,442.44 L565.29,442.43 L566.86,442.42 L568.43,442.42 L570.00,442.41 L571.58,442.41 L573.15,442.41 L574.72,442.40 L576.29,442.40 L577.87,442.40 L579.44,442.40 L581.01,442.40 L582.58,442.42 L584.15,442.45 L585.73,442.49 L587.30,442.54 L588.87,442.59 L590.44,442.66 L592.02,442.73 L593.59,442.81 L595.16,442.90 L596.74,442.99 L598.31,443.08 L599.88,443.18 L601.45,443.28 L603.02,443.38 L604.60,443.48 L606.17,443.58 L607.74,443.68 L609.31,443.78 L610.89,443.87 L612.46,443.96 L614.03,444.05 L615.61,444.13 L617.18,444.20 L618.75,444.27 L620.32,444.33 L621.89,444.39 L623.47,444.44 L625.04,444.50 L626.61,444.56 L628.19,444.62 L629.76,444.68 L631.33,444.75 L632.90,444.81 L634.48,444.86 L636.05,444.92 L637.62,444.98 L639.19,445.03 L640.76,445.09 L642.34,445.14 L643.91,445.19 L645.48,445.23 L647.06,445.27 L648.63,445.31 L650.20,445.35 L651.77,445.38 L653.35,445.40 L654.92,445.43 L656.49,445.44 L658.06,445.45 L659.63,445.46 L661.21,445.46 L662.78,445.45 L664.35,445.44 L665.92,445.42 L667.50,445.39 L669.07,445.36 L670.64,445.33 L672.21,445.30 L673.79,445.26 L675.36,445.23 L676.93,445.19 L678.50,445.16 L680.08,445.13 L681.65,445.10 L683.22,445.06 L684.80,445.03 L686.37,445.00 L687.94,444.96 L689.51,444.92 L691.09,444.89 L692.66,444.85 L694.23,444.81 L695.80,444.77 L697.38,444.73 L698.95,444.69 L700.52,444.65 L702.09,444.61 L703.66,444.57 L705.24,444.53 L706.81,444.49 L708.38,444.44 L709.95,444.40 L711.53,444.36 L713.10,444.32 L714.67,444.27 L716.25,444.23 L717.82,444.19 L719.39,444.14 L720.96,444.10 L722.54,444.06 L724.11,444.02 L725.68,443.98 L727.25,443.94 L728.83,443.90 L730.40,443.86 L731.97,443.82 L733.54,443.78 L735.12,443.74 L736.69,443.70 L738.26,443.67 L739.83,443.63 L741.40,443.60 L742.98,443.56 L744.55,443.53 L746.12,443.49 L747.70,443.46 L749.27,443.42 L750.84,443.39 L752.41,443.36 L753.99,443.33 L755.56,443.29 L757.13,443.26 L758.70,443.23 L760.27,443.20 L761.85,443.16 L763.42,443.13 L764.99,443.10 L766.56,443.07 L768.14,443.04 L769.71,443.01 L771.28,442.98 L772.85,442.95 L774.43,442.92 L776.00,442.89" fill="none" stroke="#00ffff" stroke-width="2.6" stroke-linejoin="round" stroke-dasharray="6.92,2.31,1.15,2.31"/>
<path d="M146.2,36.0 H776.9 M146.2,484.7 H776.9" fill="none" stroke="#000" stroke-width="1.9"/>
<path d="M147.0,36.0 V484.7 M776.1,36.0 V484.7" fill="none" stroke="#000" stroke-width="1.6"/>
<path d="M147.00,484.7 V477.50 M147.00,36.0 V43.20 M272.80,484.7 V477.50 M272.80,36.0 V43.20 M398.60,484.7 V477.50 M398.60,36.0 V43.20 M524.40,484.7 V477.50 M524.40,36.0 V43.20 M650.20,484.7 V477.50 M650.20,36.0 V43.20 M776.00,484.7 V477.50 M776.00,36.0 V43.20 M147.0,443.91 H154.20 M776.0,443.91 H768.80 M147.0,362.33 H154.20 M776.0,362.33 H768.80 M147.0,280.75 H154.20 M776.0,280.75 H768.80 M147.0,199.16 H154.20 M776.0,199.16 H768.80 M147.0,117.58 H154.20 M776.0,117.58 H768.80 M147.0,36.00 H154.20 M776.0,36.00 H768.80" stroke="#000" stroke-width="1.35" fill="none"/>
<rect x="391.1" y="43.4" width="366.79999999999995" height="149.5" fill="none" stroke="#000" stroke-width="1.3"/>
</svg>
</body></html>
